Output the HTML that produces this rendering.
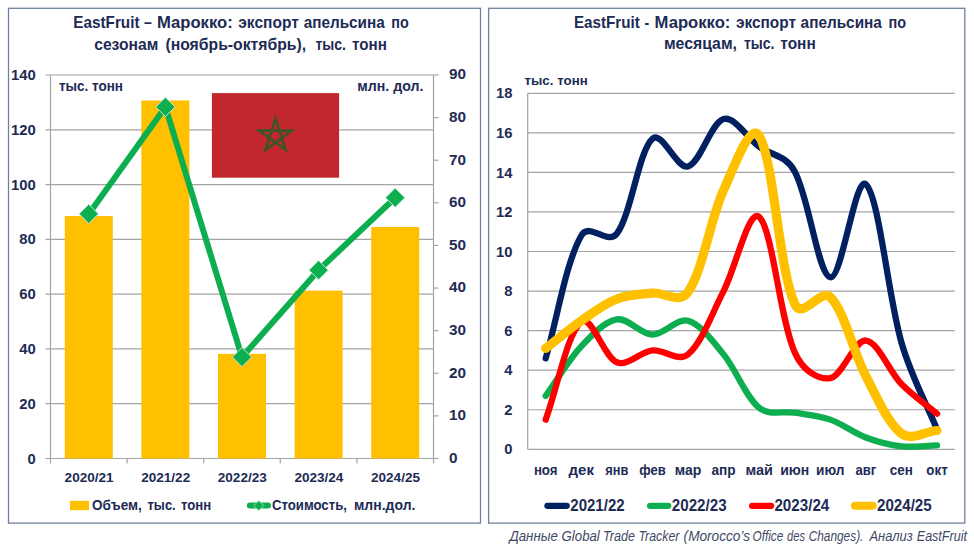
<!DOCTYPE html>
<html><head><meta charset="utf-8"><title>EastFruit</title>
<style>
html,body{margin:0;padding:0;background:#fff;}
body{width:974px;height:548px;overflow:hidden;font-family:"Liberation Sans",sans-serif;}
svg{display:block;font-family:"Liberation Sans",sans-serif;}
</style></head><body>
<svg width="974" height="548" viewBox="0 0 974 548">
<rect x="0" y="0" width="974" height="548" fill="#ffffff"/>
<rect x="8.5" y="8.3" width="472" height="514.8" fill="#fff" stroke="#6f7f9e" stroke-width="1.3"/>
<rect x="488.6" y="8.3" width="476.2" height="514.8" fill="#fff" stroke="#6f7f9e" stroke-width="1.3"/>
<line x1="45.5" y1="458.50" x2="433.5" y2="458.50" stroke="#a4a4a6" stroke-width="1.2"/>
<line x1="45.5" y1="403.71" x2="433.5" y2="403.71" stroke="#a4a4a6" stroke-width="1.2"/>
<line x1="45.5" y1="348.93" x2="433.5" y2="348.93" stroke="#a4a4a6" stroke-width="1.2"/>
<line x1="45.5" y1="294.14" x2="433.5" y2="294.14" stroke="#a4a4a6" stroke-width="1.2"/>
<line x1="45.5" y1="239.36" x2="433.5" y2="239.36" stroke="#a4a4a6" stroke-width="1.2"/>
<line x1="45.5" y1="184.57" x2="433.5" y2="184.57" stroke="#a4a4a6" stroke-width="1.2"/>
<line x1="45.5" y1="129.79" x2="433.5" y2="129.79" stroke="#a4a4a6" stroke-width="1.2"/>
<line x1="45.5" y1="75.00" x2="433.5" y2="75.00" stroke="#a4a4a6" stroke-width="1.2"/>
<line x1="50.5" y1="75.0" x2="50.5" y2="458.5" stroke="#a4a4a6" stroke-width="1.2"/>
<line x1="433.5" y1="75.0" x2="433.5" y2="458.5" stroke="#a4a4a6" stroke-width="1.2"/>
<line x1="433.5" y1="458.50" x2="438.5" y2="458.50" stroke="#a4a4a6" stroke-width="1.2"/>
<line x1="433.5" y1="415.89" x2="438.5" y2="415.89" stroke="#a4a4a6" stroke-width="1.2"/>
<line x1="433.5" y1="373.28" x2="438.5" y2="373.28" stroke="#a4a4a6" stroke-width="1.2"/>
<line x1="433.5" y1="330.67" x2="438.5" y2="330.67" stroke="#a4a4a6" stroke-width="1.2"/>
<line x1="433.5" y1="288.06" x2="438.5" y2="288.06" stroke="#a4a4a6" stroke-width="1.2"/>
<line x1="433.5" y1="245.44" x2="438.5" y2="245.44" stroke="#a4a4a6" stroke-width="1.2"/>
<line x1="433.5" y1="202.83" x2="438.5" y2="202.83" stroke="#a4a4a6" stroke-width="1.2"/>
<line x1="433.5" y1="160.22" x2="438.5" y2="160.22" stroke="#a4a4a6" stroke-width="1.2"/>
<line x1="433.5" y1="117.61" x2="438.5" y2="117.61" stroke="#a4a4a6" stroke-width="1.2"/>
<line x1="433.5" y1="75.00" x2="438.5" y2="75.00" stroke="#a4a4a6" stroke-width="1.2"/>
<line x1="50.50" y1="458.5" x2="50.50" y2="463.5" stroke="#a4a4a6" stroke-width="1.2"/>
<line x1="127.10" y1="458.5" x2="127.10" y2="463.5" stroke="#a4a4a6" stroke-width="1.2"/>
<line x1="203.70" y1="458.5" x2="203.70" y2="463.5" stroke="#a4a4a6" stroke-width="1.2"/>
<line x1="280.30" y1="458.5" x2="280.30" y2="463.5" stroke="#a4a4a6" stroke-width="1.2"/>
<line x1="356.90" y1="458.5" x2="356.90" y2="463.5" stroke="#a4a4a6" stroke-width="1.2"/>
<line x1="433.50" y1="458.5" x2="433.50" y2="463.5" stroke="#a4a4a6" stroke-width="1.2"/>
<rect x="64.80" y="216.07" width="48" height="242.43" fill="#ffc000"/>
<rect x="141.40" y="100.48" width="48" height="358.02" fill="#ffc000"/>
<rect x="218.00" y="353.86" width="48" height="104.64" fill="#ffc000"/>
<rect x="294.60" y="290.58" width="48" height="167.92" fill="#ffc000"/>
<rect x="371.20" y="227.03" width="48" height="231.47" fill="#ffc000"/>
<rect x="211.9" y="93.1" width="127.2" height="84.6" fill="#c1272d"/>
<polygon points="275.50,118.70 285.61,149.82 259.14,130.58 291.86,130.58 265.39,149.82" fill="none" stroke="#3c5527" stroke-width="2.6" stroke-linejoin="miter"/>
<polyline points="88.80,213.91 165.40,106.96 242.00,357.09 318.60,270.16 395.20,197.72" fill="none" stroke="#0cae50" stroke-width="6" stroke-linejoin="round" stroke-linecap="round"/>
<polygon points="88.80,204.31 98.40,213.91 88.80,223.51 79.20,213.91" fill="#0cae50" stroke="#c4ead3" stroke-width="1.0"/>
<polygon points="165.40,97.36 175.00,106.96 165.40,116.56 155.80,106.96" fill="#0cae50" stroke="#c4ead3" stroke-width="1.0"/>
<polygon points="242.00,347.49 251.60,357.09 242.00,366.69 232.40,357.09" fill="#0cae50" stroke="#c4ead3" stroke-width="1.0"/>
<polygon points="318.60,260.56 328.20,270.16 318.60,279.76 309.00,270.16" fill="#0cae50" stroke="#c4ead3" stroke-width="1.0"/>
<polygon points="395.20,188.12 404.80,197.72 395.20,207.32 385.60,197.72" fill="#0cae50" stroke="#c4ead3" stroke-width="1.0"/>
<text x="73.3" y="28.0" font-size="16.2" text-anchor="start" font-weight="bold" font-style="normal" fill="#1d2b55" textLength="66.2" lengthAdjust="spacingAndGlyphs">EastFruit</text>
<text x="144.1" y="28.0" font-size="16.2" text-anchor="start" font-weight="bold" font-style="normal" fill="#1d2b55" textLength="7.8" lengthAdjust="spacingAndGlyphs">–</text>
<text x="156.9" y="28.0" font-size="16.2" text-anchor="start" font-weight="bold" font-style="normal" fill="#1d2b55" textLength="75.9" lengthAdjust="spacingAndGlyphs">Марокко:</text>
<text x="238.3" y="28.0" font-size="16.2" text-anchor="start" font-weight="bold" font-style="normal" fill="#1d2b55" textLength="60.5" lengthAdjust="spacingAndGlyphs">экспорт</text>
<text x="303.7" y="28.0" font-size="16.2" text-anchor="start" font-weight="bold" font-style="normal" fill="#1d2b55" textLength="81.0" lengthAdjust="spacingAndGlyphs">апельсина</text>
<text x="391.2" y="28.0" font-size="16.2" text-anchor="start" font-weight="bold" font-style="normal" fill="#1d2b55" textLength="17.5" lengthAdjust="spacingAndGlyphs">по</text>
<text x="94.2" y="49.8" font-size="16.2" text-anchor="start" font-weight="bold" font-style="normal" fill="#1d2b55" textLength="64.1" lengthAdjust="spacingAndGlyphs">сезонам</text>
<text x="165.4" y="49.8" font-size="16.2" text-anchor="start" font-weight="bold" font-style="normal" fill="#1d2b55" textLength="140.8" lengthAdjust="spacingAndGlyphs">(ноябрь-октябрь),</text>
<text x="315.4" y="49.8" font-size="16.2" text-anchor="start" font-weight="bold" font-style="normal" fill="#1d2b55" textLength="30.5" lengthAdjust="spacingAndGlyphs">тыс.</text>
<text x="352.0" y="49.8" font-size="16.2" text-anchor="start" font-weight="bold" font-style="normal" fill="#1d2b55" textLength="34.9" lengthAdjust="spacingAndGlyphs">тонн</text>
<text x="59" y="90.7" font-size="14.0" text-anchor="start" font-weight="bold" font-style="normal" fill="#1d2b55" textLength="64" lengthAdjust="spacingAndGlyphs">тыс. тонн</text>
<text x="357.2" y="90.8" font-size="14.2" text-anchor="start" font-weight="bold" font-style="normal" fill="#1d2b55" textLength="66.2" lengthAdjust="spacingAndGlyphs">млн. дол.</text>
<text x="35.8" y="463.5" font-size="15.4" text-anchor="end" font-weight="bold" font-style="normal" fill="#1d2b55" textLength="8.2" lengthAdjust="spacingAndGlyphs">0</text>
<text x="35.8" y="408.7142857142857" font-size="15.4" text-anchor="end" font-weight="bold" font-style="normal" fill="#1d2b55" textLength="16.5" lengthAdjust="spacingAndGlyphs">20</text>
<text x="35.8" y="353.92857142857144" font-size="15.4" text-anchor="end" font-weight="bold" font-style="normal" fill="#1d2b55" textLength="16.5" lengthAdjust="spacingAndGlyphs">40</text>
<text x="35.8" y="299.1428571428571" font-size="15.4" text-anchor="end" font-weight="bold" font-style="normal" fill="#1d2b55" textLength="16.5" lengthAdjust="spacingAndGlyphs">60</text>
<text x="35.8" y="244.35714285714286" font-size="15.4" text-anchor="end" font-weight="bold" font-style="normal" fill="#1d2b55" textLength="16.5" lengthAdjust="spacingAndGlyphs">80</text>
<text x="35.8" y="189.57142857142856" font-size="15.4" text-anchor="end" font-weight="bold" font-style="normal" fill="#1d2b55" textLength="24.8" lengthAdjust="spacingAndGlyphs">100</text>
<text x="35.8" y="134.78571428571428" font-size="15.4" text-anchor="end" font-weight="bold" font-style="normal" fill="#1d2b55" textLength="24.8" lengthAdjust="spacingAndGlyphs">120</text>
<text x="35.8" y="80.0" font-size="15.4" text-anchor="end" font-weight="bold" font-style="normal" fill="#1d2b55" textLength="24.8" lengthAdjust="spacingAndGlyphs">140</text>
<text x="449" y="462.8" font-size="15.4" text-anchor="start" font-weight="bold" font-style="normal" fill="#1d2b55" textLength="8.5" lengthAdjust="spacingAndGlyphs">0</text>
<text x="449" y="420.1888888888889" font-size="15.4" text-anchor="start" font-weight="bold" font-style="normal" fill="#1d2b55" textLength="17.0" lengthAdjust="spacingAndGlyphs">10</text>
<text x="449" y="377.5777777777778" font-size="15.4" text-anchor="start" font-weight="bold" font-style="normal" fill="#1d2b55" textLength="17.0" lengthAdjust="spacingAndGlyphs">20</text>
<text x="449" y="334.9666666666667" font-size="15.4" text-anchor="start" font-weight="bold" font-style="normal" fill="#1d2b55" textLength="17.0" lengthAdjust="spacingAndGlyphs">30</text>
<text x="449" y="292.35555555555555" font-size="15.4" text-anchor="start" font-weight="bold" font-style="normal" fill="#1d2b55" textLength="17.0" lengthAdjust="spacingAndGlyphs">40</text>
<text x="449" y="249.74444444444447" font-size="15.4" text-anchor="start" font-weight="bold" font-style="normal" fill="#1d2b55" textLength="17.0" lengthAdjust="spacingAndGlyphs">50</text>
<text x="449" y="207.13333333333335" font-size="15.4" text-anchor="start" font-weight="bold" font-style="normal" fill="#1d2b55" textLength="17.0" lengthAdjust="spacingAndGlyphs">60</text>
<text x="449" y="164.52222222222224" font-size="15.4" text-anchor="start" font-weight="bold" font-style="normal" fill="#1d2b55" textLength="17.0" lengthAdjust="spacingAndGlyphs">70</text>
<text x="449" y="121.91111111111108" font-size="15.4" text-anchor="start" font-weight="bold" font-style="normal" fill="#1d2b55" textLength="17.0" lengthAdjust="spacingAndGlyphs">80</text>
<text x="449" y="79.3" font-size="15.4" text-anchor="start" font-weight="bold" font-style="normal" fill="#1d2b55" textLength="17.0" lengthAdjust="spacingAndGlyphs">90</text>
<text x="89.1" y="482.1" font-size="13.6" text-anchor="middle" font-weight="bold" font-style="normal" fill="#1d2b55" textLength="49" lengthAdjust="spacingAndGlyphs">2020/21</text>
<text x="165.7" y="482.1" font-size="13.6" text-anchor="middle" font-weight="bold" font-style="normal" fill="#1d2b55" textLength="49" lengthAdjust="spacingAndGlyphs">2021/22</text>
<text x="242.3" y="482.1" font-size="13.6" text-anchor="middle" font-weight="bold" font-style="normal" fill="#1d2b55" textLength="49" lengthAdjust="spacingAndGlyphs">2022/23</text>
<text x="318.9" y="482.1" font-size="13.6" text-anchor="middle" font-weight="bold" font-style="normal" fill="#1d2b55" textLength="49" lengthAdjust="spacingAndGlyphs">2023/24</text>
<text x="395.5" y="482.1" font-size="13.6" text-anchor="middle" font-weight="bold" font-style="normal" fill="#1d2b55" textLength="49" lengthAdjust="spacingAndGlyphs">2024/25</text>
<rect x="70" y="500.8" width="19" height="9.4" fill="#ffc000"/>
<text x="92.1" y="510.0" font-size="14.4" text-anchor="start" font-weight="bold" font-style="normal" fill="#1d2b55" textLength="49.7" lengthAdjust="spacingAndGlyphs">Объем,</text>
<text x="147.5" y="510.0" font-size="14.4" text-anchor="start" font-weight="bold" font-style="normal" fill="#1d2b55" textLength="28.2" lengthAdjust="spacingAndGlyphs">тыс.</text>
<text x="181.0" y="510.0" font-size="14.4" text-anchor="start" font-weight="bold" font-style="normal" fill="#1d2b55" textLength="30.2" lengthAdjust="spacingAndGlyphs">тонн</text>
<line x1="249.8" y1="505.6" x2="268.0" y2="505.6" stroke="#0cae50" stroke-width="6" stroke-linecap="round"/>
<polygon points="258.80,500.60 263.80,505.60 258.80,510.60 253.80,505.60" fill="#0cae50" stroke="#c4ead3" stroke-width="0.8"/>
<text x="272.0" y="510.0" font-size="14.4" text-anchor="start" font-weight="bold" font-style="normal" fill="#1d2b55" textLength="74.9" lengthAdjust="spacingAndGlyphs">Стоимость,</text>
<text x="354.0" y="510.0" font-size="14.4" text-anchor="start" font-weight="bold" font-style="normal" fill="#1d2b55" textLength="61.4" lengthAdjust="spacingAndGlyphs">млн.дол.</text>
<line x1="527.7" y1="449.30" x2="954.8" y2="449.30" stroke="#a4a4a6" stroke-width="1.2"/>
<line x1="527.7" y1="409.74" x2="954.8" y2="409.74" stroke="#a4a4a6" stroke-width="1.2"/>
<line x1="527.7" y1="370.19" x2="954.8" y2="370.19" stroke="#a4a4a6" stroke-width="1.2"/>
<line x1="527.7" y1="330.63" x2="954.8" y2="330.63" stroke="#a4a4a6" stroke-width="1.2"/>
<line x1="527.7" y1="291.08" x2="954.8" y2="291.08" stroke="#a4a4a6" stroke-width="1.2"/>
<line x1="527.7" y1="251.52" x2="954.8" y2="251.52" stroke="#a4a4a6" stroke-width="1.2"/>
<line x1="527.7" y1="211.97" x2="954.8" y2="211.97" stroke="#a4a4a6" stroke-width="1.2"/>
<line x1="527.7" y1="172.41" x2="954.8" y2="172.41" stroke="#a4a4a6" stroke-width="1.2"/>
<line x1="527.7" y1="132.86" x2="954.8" y2="132.86" stroke="#a4a4a6" stroke-width="1.2"/>
<line x1="527.7" y1="93.30" x2="954.8" y2="93.30" stroke="#a4a4a6" stroke-width="1.2"/>
<line x1="527.7" y1="93.3" x2="527.7" y2="449.3" stroke="#a4a4a6" stroke-width="1.2"/>
<path d="M545.69,358.32 C557.55,317.45 565.74,262.88 581.26,235.70 C589.46,221.34 608.01,245.75 616.84,233.72 C631.73,213.44 638.18,152.24 652.41,138.79 C661.90,129.82 676.94,169.55 687.99,166.48 C700.66,162.96 710.89,122.53 723.56,119.01 C734.61,115.94 747.16,137.88 759.14,146.70 C770.88,155.35 785.61,154.72 794.71,171.42 C809.33,198.23 818.09,275.03 830.29,277.23 C841.81,279.31 855.44,174.72 865.86,184.28 C879.16,196.48 887.97,296.09 901.44,342.50 C911.69,377.84 925.15,400.51 937.01,429.52" fill="none" stroke="#002060" stroke-width="6.3" stroke-linecap="round" stroke-linejoin="round"/>
<path d="M545.69,395.90 C557.55,379.42 568.49,360.20 581.26,346.46 C592.21,334.68 604.55,321.41 616.84,319.36 C628.27,317.45 640.51,334.36 652.41,334.59 C664.23,334.82 676.87,317.65 687.99,320.74 C700.58,324.25 712.51,340.84 723.56,354.37 C736.22,369.85 745.57,396.64 759.14,407.77 C769.29,416.09 782.88,410.74 794.71,412.71 C806.60,414.69 818.71,415.61 830.29,419.63 C842.42,423.85 853.76,432.89 865.86,437.43 C877.48,441.79 889.49,445.00 901.44,446.33 C913.21,447.64 925.15,445.67 937.01,445.34" fill="none" stroke="#0cae50" stroke-width="6.3" stroke-linecap="round" stroke-linejoin="round"/>
<path d="M545.69,419.63 C557.55,387.00 567.47,332.85 581.26,321.73 C591.19,313.73 603.90,357.07 616.84,362.28 C627.62,366.62 640.42,351.74 652.41,350.41 C664.13,349.11 678.20,362.53 687.99,354.37 C701.92,342.75 712.07,313.27 723.56,291.08 C735.79,267.45 748.85,208.04 759.14,216.91 C772.56,228.48 779.51,317.94 794.71,352.39 C803.22,371.67 818.92,380.00 830.29,378.10 C842.63,376.04 854.25,339.55 865.86,340.52 C877.97,341.53 889.01,371.25 901.44,384.03 C912.72,395.64 925.15,403.81 937.01,413.70" fill="none" stroke="#ff0000" stroke-width="6.3" stroke-linecap="round" stroke-linejoin="round"/>
<path d="M545.69,348.43 C557.55,339.20 569.17,329.15 581.26,320.74 C592.89,312.66 604.55,303.77 616.84,298.99 C628.27,294.54 640.51,294.21 652.41,293.06 C664.23,291.91 679.34,304.57 687.99,292.07 C703.05,270.29 710.21,219.53 723.56,190.21 C733.93,167.45 750.11,121.39 759.14,135.82 C773.82,159.29 778.46,267.11 794.71,303.93 C802.18,320.84 820.98,287.56 830.29,297.01 C844.69,311.63 853.26,351.95 865.86,376.12 C876.98,397.44 887.71,422.98 901.44,433.48 C911.42,441.11 925.15,431.50 937.01,430.51" fill="none" stroke="#ffc000" stroke-width="9.2" stroke-linecap="round" stroke-linejoin="round"/>
<text x="573.9" y="27.6" font-size="16.2" text-anchor="start" font-weight="bold" font-style="normal" fill="#1d2b55" textLength="65.9" lengthAdjust="spacingAndGlyphs">EastFruit</text>
<text x="644.5" y="27.6" font-size="16.2" text-anchor="start" font-weight="bold" font-style="normal" fill="#1d2b55" textLength="4.6" lengthAdjust="spacingAndGlyphs">-</text>
<text x="654.6" y="27.6" font-size="16.2" text-anchor="start" font-weight="bold" font-style="normal" fill="#1d2b55" textLength="75.8" lengthAdjust="spacingAndGlyphs">Марокко:</text>
<text x="735.9" y="27.6" font-size="16.2" text-anchor="start" font-weight="bold" font-style="normal" fill="#1d2b55" textLength="60.1" lengthAdjust="spacingAndGlyphs">экспорт</text>
<text x="800.6" y="27.6" font-size="16.2" text-anchor="start" font-weight="bold" font-style="normal" fill="#1d2b55" textLength="81.3" lengthAdjust="spacingAndGlyphs">апельсина</text>
<text x="888.4" y="27.6" font-size="16.2" text-anchor="start" font-weight="bold" font-style="normal" fill="#1d2b55" textLength="17.6" lengthAdjust="spacingAndGlyphs">по</text>
<text x="663.9" y="49.3" font-size="16.2" text-anchor="start" font-weight="bold" font-style="normal" fill="#1d2b55" textLength="73.1" lengthAdjust="spacingAndGlyphs">месяцам,</text>
<text x="743.9" y="49.3" font-size="16.2" text-anchor="start" font-weight="bold" font-style="normal" fill="#1d2b55" textLength="30.5" lengthAdjust="spacingAndGlyphs">тыс.</text>
<text x="780.3" y="49.3" font-size="16.2" text-anchor="start" font-weight="bold" font-style="normal" fill="#1d2b55" textLength="35.5" lengthAdjust="spacingAndGlyphs">тонн</text>
<text x="524.5" y="84.9" font-size="13.7" text-anchor="start" font-weight="bold" font-style="normal" fill="#1d2b55" textLength="63.2" lengthAdjust="spacingAndGlyphs">тыс. тонн</text>
<text x="512.5" y="454.40000000000003" font-size="15.2" text-anchor="end" font-weight="bold" font-style="normal" fill="#1d2b55" textLength="8.2" lengthAdjust="spacingAndGlyphs">0</text>
<text x="512.5" y="414.8444444444445" font-size="15.2" text-anchor="end" font-weight="bold" font-style="normal" fill="#1d2b55" textLength="8.2" lengthAdjust="spacingAndGlyphs">2</text>
<text x="512.5" y="375.2888888888889" font-size="15.2" text-anchor="end" font-weight="bold" font-style="normal" fill="#1d2b55" textLength="8.2" lengthAdjust="spacingAndGlyphs">4</text>
<text x="512.5" y="335.73333333333335" font-size="15.2" text-anchor="end" font-weight="bold" font-style="normal" fill="#1d2b55" textLength="8.2" lengthAdjust="spacingAndGlyphs">6</text>
<text x="512.5" y="296.1777777777778" font-size="15.2" text-anchor="end" font-weight="bold" font-style="normal" fill="#1d2b55" textLength="8.2" lengthAdjust="spacingAndGlyphs">8</text>
<text x="512.5" y="256.62222222222226" font-size="15.2" text-anchor="end" font-weight="bold" font-style="normal" fill="#1d2b55" textLength="16.4" lengthAdjust="spacingAndGlyphs">10</text>
<text x="512.5" y="217.06666666666666" font-size="15.2" text-anchor="end" font-weight="bold" font-style="normal" fill="#1d2b55" textLength="16.4" lengthAdjust="spacingAndGlyphs">12</text>
<text x="512.5" y="177.5111111111111" font-size="15.2" text-anchor="end" font-weight="bold" font-style="normal" fill="#1d2b55" textLength="16.4" lengthAdjust="spacingAndGlyphs">14</text>
<text x="512.5" y="137.95555555555555" font-size="15.2" text-anchor="end" font-weight="bold" font-style="normal" fill="#1d2b55" textLength="16.4" lengthAdjust="spacingAndGlyphs">16</text>
<text x="512.5" y="98.4" font-size="15.2" text-anchor="end" font-weight="bold" font-style="normal" fill="#1d2b55" textLength="16.4" lengthAdjust="spacingAndGlyphs">18</text>
<text x="533.89" y="475.0" font-size="15.2" text-anchor="start" font-weight="bold" font-style="normal" fill="#1d2b55" textLength="23.6" lengthAdjust="spacingAndGlyphs">ноя</text>
<text x="568.61" y="475.0" font-size="15.2" text-anchor="start" font-weight="bold" font-style="normal" fill="#1d2b55" textLength="25.3" lengthAdjust="spacingAndGlyphs">дек</text>
<text x="605.29" y="475.0" font-size="15.2" text-anchor="start" font-weight="bold" font-style="normal" fill="#1d2b55" textLength="23.1" lengthAdjust="spacingAndGlyphs">янв</text>
<text x="639.16" y="475.0" font-size="15.2" text-anchor="start" font-weight="bold" font-style="normal" fill="#1d2b55" textLength="26.5" lengthAdjust="spacingAndGlyphs">фев</text>
<text x="674.69" y="475.0" font-size="15.2" text-anchor="start" font-weight="bold" font-style="normal" fill="#1d2b55" textLength="26.6" lengthAdjust="spacingAndGlyphs">мар</text>
<text x="711.51" y="475.0" font-size="15.2" text-anchor="start" font-weight="bold" font-style="normal" fill="#1d2b55" textLength="24.1" lengthAdjust="spacingAndGlyphs">апр</text>
<text x="745.44" y="475.0" font-size="15.2" text-anchor="start" font-weight="bold" font-style="normal" fill="#1d2b55" textLength="27.4" lengthAdjust="spacingAndGlyphs">май</text>
<text x="780.16" y="475.0" font-size="15.2" text-anchor="start" font-weight="bold" font-style="normal" fill="#1d2b55" textLength="29.1" lengthAdjust="spacingAndGlyphs">июн</text>
<text x="816.09" y="475.0" font-size="15.2" text-anchor="start" font-weight="bold" font-style="normal" fill="#1d2b55" textLength="28.4" lengthAdjust="spacingAndGlyphs">июл</text>
<text x="855.46" y="475.0" font-size="15.2" text-anchor="start" font-weight="bold" font-style="normal" fill="#1d2b55" textLength="20.8" lengthAdjust="spacingAndGlyphs">авг</text>
<text x="889.84" y="475.0" font-size="15.2" text-anchor="start" font-weight="bold" font-style="normal" fill="#1d2b55" textLength="23.2" lengthAdjust="spacingAndGlyphs">сен</text>
<text x="926.36" y="475.0" font-size="15.2" text-anchor="start" font-weight="bold" font-style="normal" fill="#1d2b55" textLength="21.3" lengthAdjust="spacingAndGlyphs">окт</text>
<line x1="547.4499999999999" y1="505.8" x2="566.65" y2="505.8" stroke="#002060" stroke-width="6.3" stroke-linecap="round"/>
<text x="570.3" y="511.2" font-size="15.6" text-anchor="start" font-weight="bold" font-style="normal" fill="#1d2b55" textLength="54.3" lengthAdjust="spacingAndGlyphs">2021/22</text>
<line x1="650.15" y1="505.8" x2="668.15" y2="505.8" stroke="#0cae50" stroke-width="6.3" stroke-linecap="round"/>
<text x="671.8" y="511.2" font-size="15.6" text-anchor="start" font-weight="bold" font-style="normal" fill="#1d2b55" textLength="54.8" lengthAdjust="spacingAndGlyphs">2022/23</text>
<line x1="752.15" y1="505.8" x2="771.0500000000001" y2="505.8" stroke="#ff0000" stroke-width="6.3" stroke-linecap="round"/>
<text x="774.4" y="511.2" font-size="15.6" text-anchor="start" font-weight="bold" font-style="normal" fill="#1d2b55" textLength="54.9" lengthAdjust="spacingAndGlyphs">2023/24</text>
<line x1="855.0" y1="505.8" x2="872.7" y2="505.8" stroke="#ffc000" stroke-width="8" stroke-linecap="round"/>
<text x="877" y="511.2" font-size="15.6" text-anchor="start" font-weight="bold" font-style="normal" fill="#1d2b55" textLength="54.7" lengthAdjust="spacingAndGlyphs">2024/25</text>
<text x="509.4" y="540.8" font-size="14.3" text-anchor="start" font-weight="normal" font-style="italic" fill="#3f4a66" textLength="48.5" lengthAdjust="spacingAndGlyphs">Данные</text>
<text x="561.6" y="540.8" font-size="14.3" text-anchor="start" font-weight="normal" font-style="italic" fill="#3f4a66" textLength="38.2" lengthAdjust="spacingAndGlyphs">Global</text>
<text x="603.0" y="540.8" font-size="14.3" text-anchor="start" font-weight="normal" font-style="italic" fill="#3f4a66" textLength="32.0" lengthAdjust="spacingAndGlyphs">Trade</text>
<text x="638.5" y="540.8" font-size="14.3" text-anchor="start" font-weight="normal" font-style="italic" fill="#3f4a66" textLength="40.9" lengthAdjust="spacingAndGlyphs">Tracker</text>
<text x="683.6" y="540.8" font-size="14.3" text-anchor="start" font-weight="normal" font-style="italic" fill="#3f4a66" textLength="66.4" lengthAdjust="spacingAndGlyphs">(Morocco’s</text>
<text x="752.5" y="540.8" font-size="14.3" text-anchor="start" font-weight="normal" font-style="italic" fill="#3f4a66" textLength="30.8" lengthAdjust="spacingAndGlyphs">Office</text>
<text x="787.0" y="540.8" font-size="14.3" text-anchor="start" font-weight="normal" font-style="italic" fill="#3f4a66" textLength="18.0" lengthAdjust="spacingAndGlyphs">des</text>
<text x="808.7" y="540.8" font-size="14.3" text-anchor="start" font-weight="normal" font-style="italic" fill="#3f4a66" textLength="54.7" lengthAdjust="spacingAndGlyphs">Changes).</text>
<text x="869.5" y="540.8" font-size="14.3" text-anchor="start" font-weight="normal" font-style="italic" fill="#3f4a66" textLength="43.2" lengthAdjust="spacingAndGlyphs">Анализ</text>
<text x="916.8" y="540.8" font-size="14.3" text-anchor="start" font-weight="normal" font-style="italic" fill="#3f4a66" textLength="50.1" lengthAdjust="spacingAndGlyphs">EastFruit</text>
</svg>
</body></html>
